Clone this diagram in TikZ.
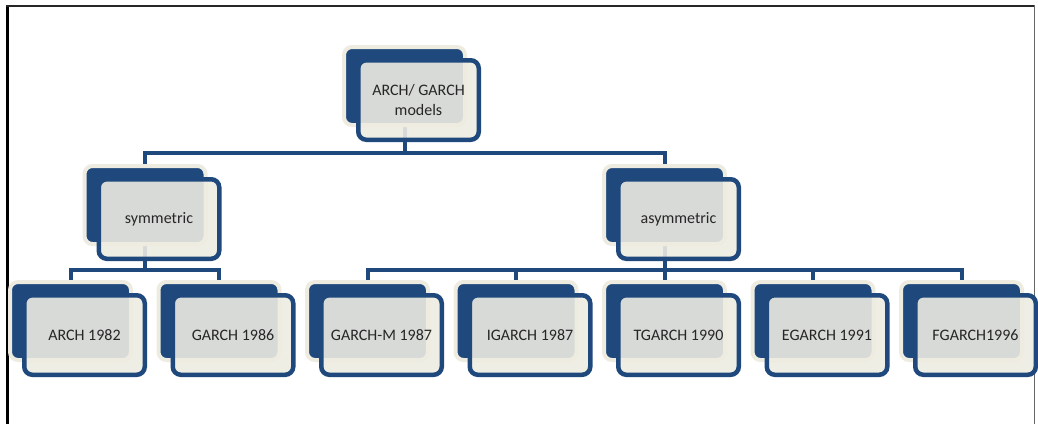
\documentclass[tikz,border=0pt]{standalone}
\usepackage{fontspec}
\setmainfont{Carlito}
\definecolor{gblue}{HTML}{1F497D}
\definecolor{gcream}{HTML}{EEECE1}
\definecolor{gtext}{HTML}{262626}
\pgfdeclarelayer{bg}
\pgfsetlayers{bg,main}
\tikzset{
  backbox/.style={draw=gcream, line width=4pt, fill=gblue, rounded corners=8pt,
    minimum width=121pt, minimum height=78pt, inner sep=0pt, outer sep=0pt},
  frontbox/.style={draw=gblue, line width=4.5pt, fill=gcream, fill opacity=0.89,
    text opacity=1, draw opacity=1, rounded corners=8pt, text=gtext,
    minimum width=120.5pt, minimum height=79.5pt, inner sep=0pt, outer sep=0pt,
    align=center, font=\fontsize{16}{20}\selectfont},
  conn/.style={draw=gblue, line width=4pt},
}
\newcommand\gbox[4]{%
  \node[backbox] (#1) at (#2,#3) {};
  \node[frontbox] (#1f) at ([shift={(14pt,-14pt)}]#1.center) {#4};
}
\begin{document}
\begin{tikzpicture}[x=1pt,y=-1pt]
\useasboundingbox (0,0) rectangle (1038,424);
% frame
\draw[line width=3.5pt, black] (7.5,424) -- (7.5,5);
\draw[line width=2pt, black!85] (6,6) -- (1034.5,6);
\draw[line width=1.2pt, black!60] (1034.5,5) -- (1034.5,424);
% boxes
\gbox{top}{404.5}{86}{ARCH/ GARCH\\models}
\gbox{sym}{145}{205}{symmetric}
\gbox{asym}{664.5}{205}{asymmetric}
\gbox{arch}{70.5}{321}{ARCH 1982}
\gbox{garch}{219}{321}{GARCH 1986}
\gbox{garchm}{367.5}{321}{GARCH-M 1987}
\gbox{igarch}{516}{321}{IGARCH 1987}
\gbox{tgarch}{664.5}{321}{TGARCH 1990}
\gbox{egarch}{813}{321}{EGARCH 1991}
\gbox{fgarch}{961.5}{321}{FGARCH1996}
\coordinate (bus1) at (0,153);
\coordinate (bus2) at (0,270);
\begin{pgfonlayer}{bg}
\fill[white] (0,0) rectangle (1038,424);
\draw[conn] (top.center) -- (top.center |- bus1) -| (sym.center);
\draw[conn] (top.center |- bus1) -| (asym.center);
\draw[conn] (sym.center) -- (sym.center |- bus2) -| (arch.center);
\draw[conn] (sym.center |- bus2) -| (garch.center);
\draw[conn] (asym.center) -- (asym.center |- bus2) -| (garchm.center);
\draw[conn] (asym.center |- bus2) -| (fgarch.center);
\draw[conn] (igarch.center |- bus2) -- (igarch.center);
\draw[conn] (egarch.center |- bus2) -- (egarch.center);
\draw[conn] (tgarch.center |- bus2) -- (tgarch.center);
\end{pgfonlayer}
\end{tikzpicture}
\end{document}
